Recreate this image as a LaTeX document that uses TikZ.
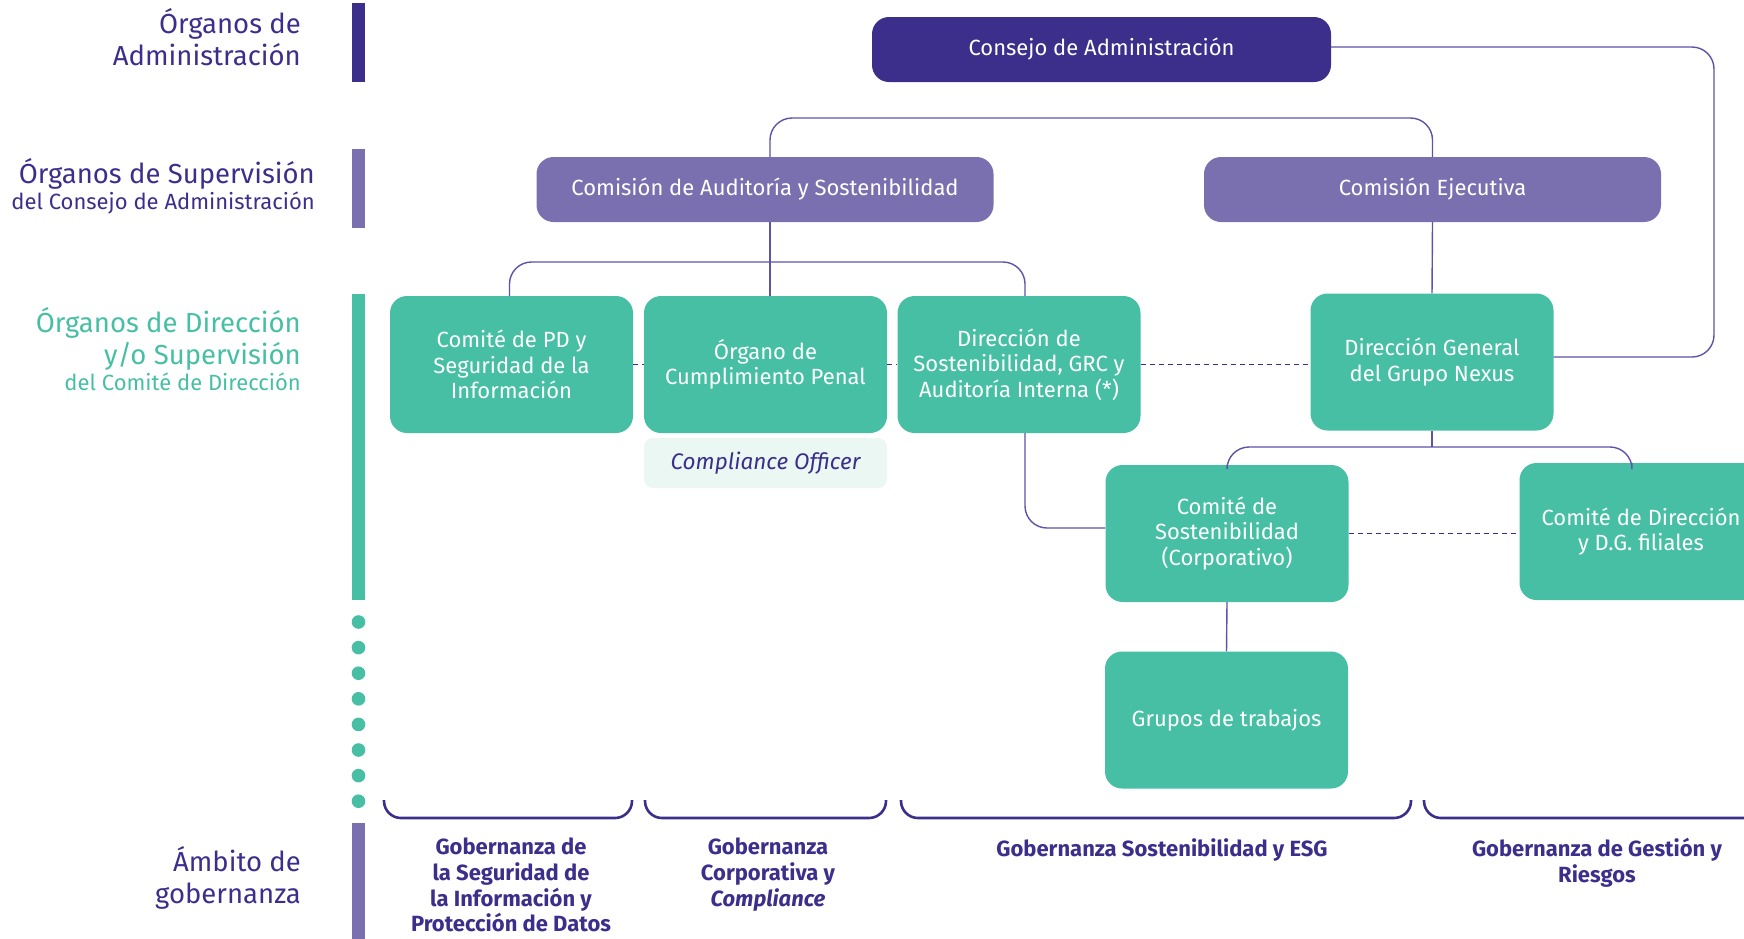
\documentclass[tikz,border=0pt]{standalone}
\usepackage{fontspec}
\setmainfont{Fira Sans}
\definecolor{cIndigo}{HTML}{3B2F8B}
\definecolor{cPurple}{HTML}{7B70AF}
\definecolor{cTeal}{HTML}{46BFA4}
\definecolor{cLight}{HTML}{EAF7F3}
\definecolor{cLine}{HTML}{5E53A6}
\begin{document}
\begin{tikzpicture}[x=1pt,y=-1pt,
  box/.style={rounded corners=17, inner sep=0pt, align=center, text=white,
    font=\fontsize{22}{25.6}\selectfont},
  topbox/.style={box, fill=cIndigo, minimum width=459, minimum height=65},
  combox/.style={box, fill=cPurple, minimum width=457, minimum height=65},
  tealbox/.style={box, fill=cTeal, minimum width=243, minimum height=137},
  notebox/.style={box, fill=cLight, text=cIndigo, rounded corners=9,
    minimum width=243, minimum height=50, font=\fontsize{22.5}{25.6}\selectfont\itshape},
  conn/.style={draw=cLine, line width=1.4pt},
  dashline/.style={draw=cIndigo, line width=1.3pt, dash pattern=on 5pt off 4pt},
  bracepath/.style={draw=cIndigo, line width=2.6pt, rounded corners=17},
  biglabel/.style={anchor=base east, align=right, inner sep=0pt, text=cIndigo,
    font=\fontsize{27.5}{32}\selectfont},
  smalllabel/.style={anchor=base east, align=right, inner sep=0pt, text=cIndigo,
    font=\fontsize{22}{25}\selectfont},
  govlabel/.style={anchor=north, align=center, inner sep=0pt, text=cIndigo,
    font=\fontsize{22}{25.6}\selectfont\bfseries}
]
\useasboundingbox (0,0) rectangle (1744,938);
\clip (0,0) rectangle (1744,938);

% left bars
\fill[cIndigo] (352,3) rectangle (365,82);
\fill[cPurple] (352,149) rectangle (365,228);
\fill[cTeal] (352,294) rectangle (365,600);
\fill[cPurple] (352,823) rectangle (365,945);
\foreach \i in {0,...,7} {
  \fill[cTeal] (358.5,{622+25.6*\i}) circle (6.8);
}

% left labels
\node[biglabel] (l1a) at (301,33) {Órganos de};
\node[biglabel] (l1b) at (301,65) {Administración};
\node[biglabel] (l2a) at (315,183) {Órganos de Supervisión};
\node[smalllabel] (l2b) at (315,209) {del Consejo de Administración};
\node[biglabel, text=cTeal] (l3a) at (301,332) {Órganos de Dirección};
\node[biglabel, text=cTeal] (l3b) at (301,364) {y/o Supervisión};
\node[smalllabel, text=cTeal] (l3c) at (301,390) {del Comité de Dirección};
\node[biglabel] (l4a) at (301,871) {Ámbito de};
\node[biglabel] (l4b) at (301,903) {gobernanza};

% junction coordinates
\coordinate (rc) at (1714,200);
\coordinate (jtop) at (1100,118);
\coordinate (jmid) at (765,262);
\coordinate (jdg) at (1432,447);

% boxes
\node[topbox] (consejo) at (1101.5,49.5) {Consejo de Administración};
\node[combox] (cas) at (765,189.5) {Comisión de Auditoría y Sostenibilidad};
\node[combox] (ce) at (1432.5,189.5) {Comisión Ejecutiva};
\node[tealbox] (pd) at (511.5,364.5) {Comité de PD y\\Seguridad de la\\Información};
\node[tealbox] (ocp) at (765.5,364.5) {Órgano de\\Cumplimiento Penal};
\node[tealbox] (dsa) at (1019,364.5) {Dirección de\\Sostenibilidad, GRC y\\Auditoría Interna (*)};
\node[notebox] (co) at (765.5,463) {Compliance Officer};
\node[tealbox] (dg) at (1432,362) {Dirección General\\del Grupo Nexus};
\node[tealbox] (cs) at (1227,533.5) {Comité de\\Sostenibilidad\\(Corporativo)};
\node[tealbox] (cd) at (1641,531.5) {Comité de Dirección\\y D.G. filiales};
\node[tealbox] (gt) at (1226.5,720) {Grupos de trabajos};

% solid connectors
\draw[conn, rounded corners=22] ([yshift=2.5]consejo.east) -| (rc) |- ([yshift=5]dg.east);
\draw[conn, rounded corners=22] ([xshift=5]cas.north) |- (jtop) -| (ce.north);
\draw[conn] ([xshift=5]cas.south) -- ([xshift=4.5]ocp.north);
\draw[conn, rounded corners=22] ([xshift=-2]pd.north) |- (jmid) -| ([xshift=6]dsa.north);
\draw[conn] (ce.south) -- (dg.north);
\draw[conn] (dg.south) -- (jdg);
\draw[conn, rounded corners=22] (cs.north) |- (jdg) -| ([xshift=-9]cd.north);
\draw[conn, rounded corners=22] ([xshift=6]dsa.south) |- ([yshift=5.5]cs.west);
\draw[conn] (cs.south) -- (gt.north);

% dashed connectors
\draw[dashline] (pd.east) -- (ocp.west);
\draw[dashline] (ocp.east) -- (dsa.west);
\draw[dashline] (dsa.east) -- (dsa.east -| dg.west);
\draw[dashline] (cs.east) -- (cs.east -| cd.west);

% braces
\draw[bracepath] (384,800) -- (384,818) -- (632,818) -- (632,800);
\draw[bracepath] (645,800) -- (645,818) -- (886,818) -- (886,800);
\draw[bracepath] (901,800) -- (901,818) -- (1411,818) -- (1411,800);
\draw[bracepath] (1424,800) -- (1424,818) -- (1790,818);

% governance labels
\node[govlabel] (g1) at (511,838) {Gobernanza de\\la Seguridad de\\la Información y\\Protección de Datos};
\node[govlabel] (g2) at (768,838) {Gobernanza\\Corporativa y\\\textit{Compliance}};
\node[govlabel] (g3) at (1162,838) {Gobernanza Sostenibilidad y ESG};
\node[govlabel] (g4) at (1597,838) {Gobernanza de Gestión y\\Riesgos};
\end{tikzpicture}
\end{document}
